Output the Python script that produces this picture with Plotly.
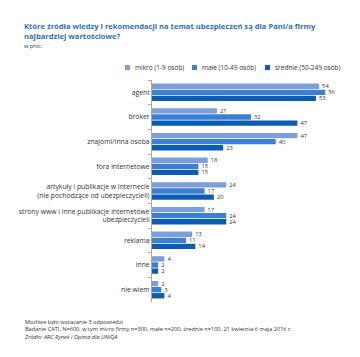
import plotly.graph_objects as go

categories = [
    "agent",
    "broker",
    "znajomi/inna osoba",
    "fora internetowe",
    "artykuły i publikacje w Internecie<br>(nie pochodzące od ubezpieczycieli)",
    "strony www i inne publikacje internetowe<br>ubezpieczycieli",
    "reklama",
    "inne",
    "nie wiem",
]
series_names = ["mikro (1-9 osób)", "małe (10-49 osób)", "średnie (50-249 osób)"]
mikro = [54, 21, 47, 18, 24, 17, 13, 4, 2]
male = [56, 32, 40, 15, 17, 24, 11, 2, 3]
srednie = [53, 47, 23, 15, 20, 24, 14, 2, 4]
colors = ["#7a9fdb", "#3b7fd4", "#0b5cb5"]

W, H = 360, 357
L, R, T, B = 152, 10, 80, 55
pw, ph = W - L - R, H - T - B

def px(x):
    return (x - L) / pw

def py(y):
    return 1 - (y - T) / ph

FONT = "Open Sans"
fig = go.Figure()
for name, vals, c in zip(series_names, [mikro, male, srednie], colors):
    fig.add_trace(go.Bar(
        y=categories, x=vals, name=name, orientation="h",
        marker=dict(color=c, line=dict(width=0)),
        text=vals, texttemplate="  %{x}", textposition="outside",
        constraintext="none", cliponaxis=False,
        textfont=dict(size=5.8, color="#333333", family=FONT),
        hoverinfo="skip", showlegend=False,
    ))

annotations = [
    dict(x=px(22), y=py(19), xref="paper", yref="paper", xanchor="left", yanchor="top",
         align="left", showarrow=False,
         text="<b>Które źródła wiedzy i rekomendacji na temat ubezpieczeń są dla Pani/a firmy<br>najbardziej wartościowe?</b>",
         font=dict(size=7.6, color="#2f6fc0", family=FONT)),
    dict(x=px(22), y=py(40), xref="paper", yref="paper", xanchor="left", yanchor="top",
         showarrow=False, text="w proc.",
         font=dict(size=5.5, color="#333333", family=FONT)),
    dict(x=px(22), y=py(316), xref="paper", yref="paper", xanchor="left", yanchor="top",
         align="left", showarrow=False,
         text="Możliwe było wskazanie 3 odpowiedzi<br>Badanie CATI, N=600, w tym micro firmy n=300, małe n=200, średnie n=100, 21 kwietnia-6 maja 2016 r.<br><i>Źródło: ARC Rynek i Opinia dla UNIQA</i>",
         font=dict(size=5.6, color="#333333", family=FONT)),
]

# manual legend
legend_x = [125, 192, 265]
shapes = []
for lx, name, c in zip(legend_x, series_names, colors):
    shapes.append(dict(type="rect", xref="paper", yref="paper",
                       x0=px(lx), x1=px(lx + 5), y0=py(70), y1=py(65),
                       fillcolor=c, line=dict(width=0)))
    annotations.append(dict(x=px(lx + 8), y=py(67.5), xref="paper", yref="paper",
                            xanchor="left", yanchor="middle", showarrow=False,
                            text=name, font=dict(size=6.5, color="#333333", family=FONT)))

fig.update_layout(
    width=W, height=H,
    margin=dict(l=L, r=R, t=T, b=B),
    paper_bgcolor="white", plot_bgcolor="white",
    barmode="group", bargap=0.26, bargroupgap=0.12,
    font=dict(family=FONT, size=7, color="#333333"),
    showlegend=False,
    annotations=annotations,
    shapes=shapes,
    xaxis=dict(range=[0, 64], visible=False, fixedrange=True),
    yaxis=dict(autorange="reversed", showline=True, linecolor="#aaaaaa", linewidth=1,
               ticks="outside", tickson="boundaries", ticklen=3, tickcolor="#aaaaaa",
               tickfont=dict(size=6.8, color="#333333", family=FONT),
               showgrid=False, zeroline=False),
)

fig.write_html("out.html")
